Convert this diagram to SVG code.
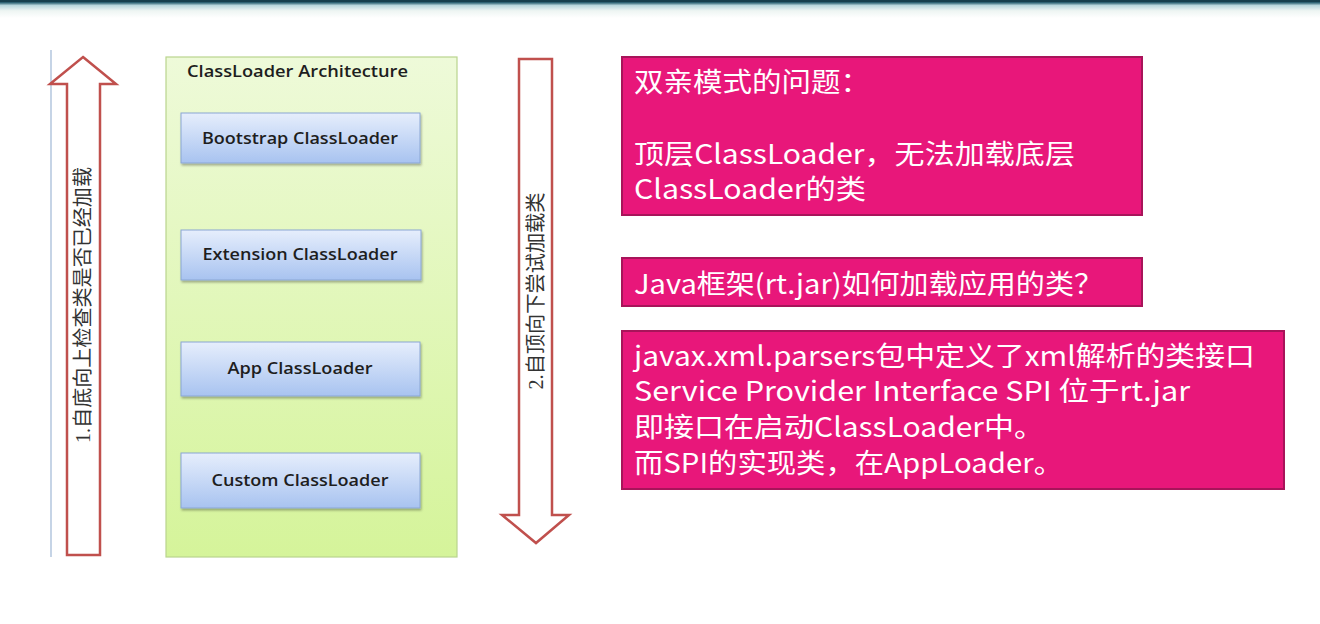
<svg xmlns="http://www.w3.org/2000/svg" width="1320" height="624" viewBox="0 0 1320 624">
<defs>
<linearGradient id="topbar" x1="0" y1="0" x2="0" y2="1">
<stop offset="0" stop-color="#1d4a5a"/>
<stop offset="0.15" stop-color="#2f6475"/>
<stop offset="0.3" stop-color="#b8d6dc"/>
<stop offset="0.6" stop-color="#eef5f3"/>
<stop offset="1" stop-color="#ffffff"/>
</linearGradient>
<linearGradient id="green" x1="0" y1="0" x2="0" y2="1">
<stop offset="0" stop-color="#eefad9"/>
<stop offset="1" stop-color="#d5f49a"/>
</linearGradient>
<linearGradient id="blue" x1="0" y1="0" x2="0" y2="1">
<stop offset="0" stop-color="#e6eefc"/>
<stop offset="1" stop-color="#a8c3f0"/>
</linearGradient>
<filter id="sh" x="-5%" y="-10%" width="115%" height="130%">
<feDropShadow dx="1" dy="2" stdDeviation="1.2" flood-color="#000" flood-opacity="0.3"/>
</filter>
<style>
.loader{fill:url(#blue);stroke:#8aa6d4;stroke-width:1}
.lt{font-family:"Open Sans","Noto Sans",sans-serif;font-weight:600;font-size:16px;fill:#1e1e1e;text-anchor:middle}
.arrow{fill:#ffffff;stroke:#c0504d;stroke-width:2.5;stroke-linejoin:miter}
.at{font-family:"Liberation Serif","Noto Sans CJK SC",serif;font-size:20px;fill:#333;text-anchor:middle}
.pink{fill:#e8177a;stroke:#a8145a;stroke-width:2}
.pt{font-family:"Noto Sans CJK SC","Noto Sans",sans-serif;font-size:27px;fill:#ffffff}
</style>
</defs>
<rect x="0" y="0" width="1320" height="18" fill="url(#topbar)"/>
<rect x="0" y="0" width="1320" height="2" fill="#163f4d"/>

<line x1="51" y1="50" x2="51" y2="557" stroke="#9fb7d6" stroke-width="1.2"/>

<g id="connectors">
<g id="arrow-up">
<polygon class="arrow" points="83,57 116,84 100,84 100,555 67,555 67,84 50,84"/>
<text class="at" transform="translate(90,305) rotate(-90)" textLength="276" lengthAdjust="spacingAndGlyphs">1.自底向上检查类是否已经加载</text>
</g>
<g id="arrow-down">
<polygon class="arrow" points="519,59 552,59 552,515 569,515 536,543 502,515 519,515"/>
<text class="at" transform="translate(543,291) rotate(-90)" textLength="197" lengthAdjust="spacingAndGlyphs">2.自顶向下尝试加载类</text>
</g>
</g>

<g id="architecture">
<rect x="166" y="57" width="291" height="500" fill="url(#green)" stroke="#b9d48e" stroke-width="1.2"/>
<text x="187" y="77" font-family="Open Sans, Noto Sans, sans-serif" font-weight="600" font-size="16" fill="#1e1e1e" textLength="221" lengthAdjust="spacingAndGlyphs">ClassLoader Architecture</text>
</g>

<g id="bootstrap">
<rect class="loader" x="181" y="113" width="239" height="50" filter="url(#sh)"/>
<text class="lt" x="300" y="144" textLength="196" lengthAdjust="spacingAndGlyphs">Bootstrap ClassLoader</text>
</g>
<g id="extension">
<rect class="loader" x="181" y="230" width="240" height="50" filter="url(#sh)"/>
<text class="lt" x="300" y="260" textLength="195" lengthAdjust="spacingAndGlyphs">Extension ClassLoader</text>
</g>
<g id="app">
<rect class="loader" x="181" y="342" width="239" height="54" filter="url(#sh)"/>
<text class="lt" x="300" y="374" textLength="145" lengthAdjust="spacingAndGlyphs">App ClassLoader</text>
</g>
<g id="custom">
<rect class="loader" x="181" y="453" width="239" height="55" filter="url(#sh)"/>
<text class="lt" x="300" y="486" textLength="177" lengthAdjust="spacingAndGlyphs">Custom ClassLoader</text>
</g>

<g id="note-problem">
<rect class="pink" x="622" y="57" width="520" height="158"/>
<text class="pt" x="634" y="92" textLength="236" lengthAdjust="spacingAndGlyphs">双亲模式的问题：</text>
<text class="pt" x="634" y="164" textLength="441" lengthAdjust="spacingAndGlyphs">顶层ClassLoader，无法加载底层</text>
<text class="pt" x="634" y="199" textLength="232" lengthAdjust="spacingAndGlyphs">ClassLoader的类</text>
</g>

<g id="note-question">
<rect class="pink" x="622" y="258" width="520" height="48"/>
<text class="pt" x="634" y="294" textLength="469" lengthAdjust="spacingAndGlyphs">Java框架(rt.jar)如何加载应用的类？</text>
</g>

<g id="note-spi">
<rect class="pink" x="622" y="331" width="662" height="158"/>
<text class="pt" x="634" y="366" textLength="621" lengthAdjust="spacingAndGlyphs">javax.xml.parsers包中定义了xml解析的类接口</text>
<text class="pt" x="634" y="401" textLength="556" lengthAdjust="spacingAndGlyphs">Service Provider Interface SPI 位于rt.jar</text>
<text class="pt" x="634" y="437" textLength="410" lengthAdjust="spacingAndGlyphs">即接口在启动ClassLoader中。</text>
<text class="pt" x="634" y="473" textLength="429" lengthAdjust="spacingAndGlyphs">而SPI的实现类，在AppLoader。</text>
</g>
</svg>
